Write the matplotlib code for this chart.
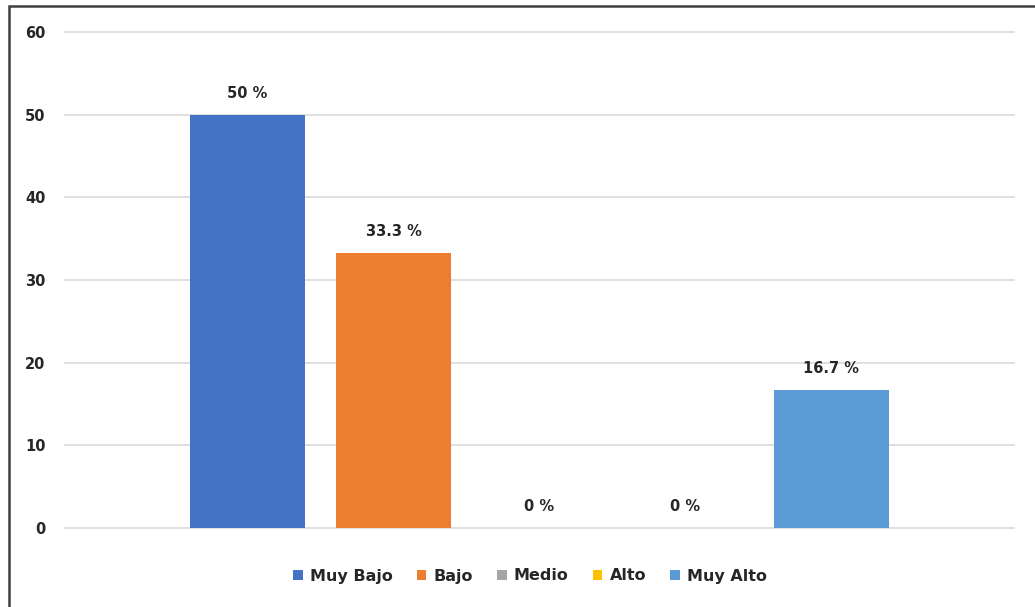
import numpy as np
import matplotlib.pyplot as plt
from matplotlib.patches import Rectangle

plt.rcParams['font.family'] = ['DejaVu Sans']

series = ['Muy Bajo', 'Bajo', 'Medio', 'Alto', 'Muy Alto']
values = [50, 33.3, 0, 0, 16.7]
labels = ['50 %', '33.3 %', '0 %', '0 %', '16.7 %']
colors = ['#4472C4', '#ED7D31', '#A5A5A5', '#FFC000', '#5B9BD5']

fig = plt.figure(figsize=(10.35, 6.07), dpi=100)
ax = fig.add_axes([65 / 1035, 1 - 528 / 607, 949 / 1035, 496 / 607])

step = 0.1538
width = 0.1212
for i, (name, v, lab, c) in enumerate(zip(series, values, labels, colors)):
    x = (i - 2) * step
    ax.bar(x, v, width=width, color=c, label=name, zorder=3)
    ax.annotate(lab, (x, v), xytext=(0, 10), textcoords='offset points',
                ha='center', va='bottom', fontsize=10.5, fontweight='bold',
                color='#262626')

ax.set_xlim(-0.5, 0.5)
ax.set_ylim(0, 60)
ax.set_yticks(range(0, 61, 10))
ax.set_xticks([])
ax.grid(axis='y', color='#d9d9d9', linewidth=1.2, zorder=0)
for gl in ax.get_ygridlines():
    gl.set_clip_on(False)
for s in ax.spines.values():
    s.set_visible(False)
ax.tick_params(axis='y', length=0, pad=14, labelsize=10.5)
for t in ax.get_yticklabels():
    t.set_fontweight('bold')
    t.set_color('#262626')

leg = fig.legend(loc='center', bbox_to_anchor=(530 / 1035, 1 - 576 / 607), ncol=5,
                 frameon=False, handlelength=0.6, handleheight=0.6,
                 handletextpad=0.45, columnspacing=1.5,
                 prop={'weight': 'bold', 'size': 11.5})
for t in leg.get_texts():
    t.set_color('#262626')

fig.patches.append(Rectangle((9 / 1035, -0.05), 1.2, 1 - 6 / 607 + 0.05,
                             transform=fig.transFigure, fill=False,
                             edgecolor='#404040', linewidth=1.8))

fig.savefig('out.png', dpi=100)
